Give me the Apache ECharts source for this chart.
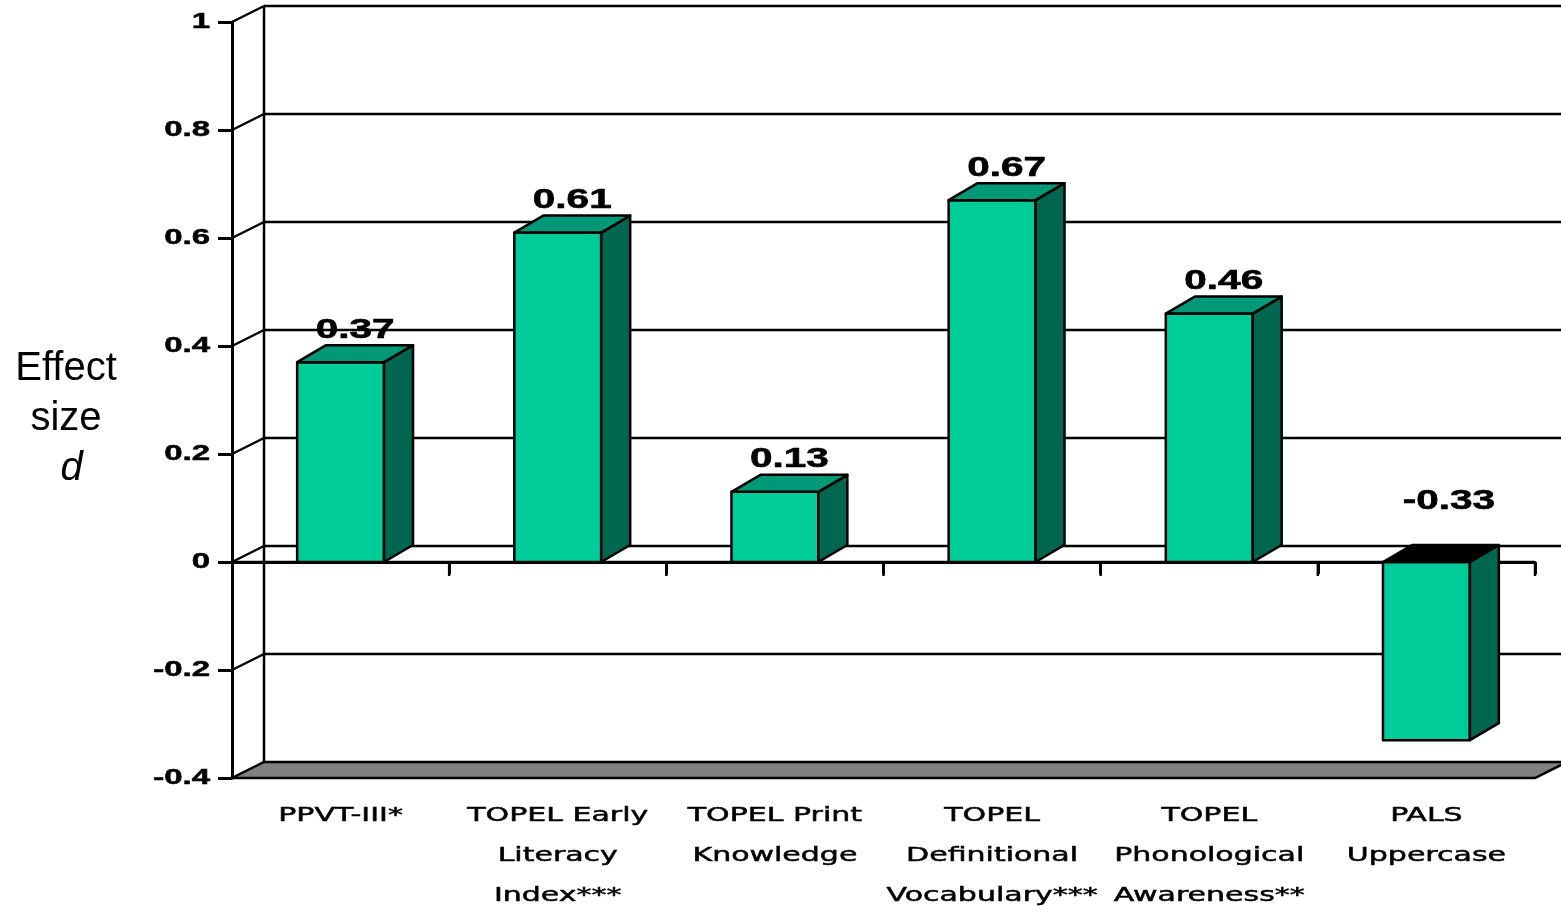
<!DOCTYPE html>
<html>
<head>
<meta charset="utf-8">
<script src="https://cdn.jsdelivr.net/npm/echarts@6/dist/echarts.min.js"></script>
<style>
  html, body { margin: 0; padding: 0; background: #fff; }
  #chart { width: 1561px; height: 913px; }
</style>
</head>
<body>
<div id="chart"></div>
<script>
const categories = [
  'PPVT-III*',
  'TOPEL Early\nLiteracy\nIndex***',
  'TOPEL Print\nKnowledge',
  'TOPEL\nDefinitional\nVocabulary***',
  'TOPEL\nPhonological\nAwareness**',
  'PALS\nUppercase',
]
const effectSizes = [0.37, 0.61, 0.13, 0.67, 0.46, -0.33]
const yTicks = [-0.4, -0.2, 0, 0.2, 0.4, 0.6, 0.8, 1]
const yTickLabels = ['-0.4', '-0.2', '0', '0.2', '0.4', '0.6', '0.8', '1']

const yMin = -0.4
const yMax = 1
const yStep = 0.2

// pseudo-3D offsets
const WALL_DX = 32, WALL_DY = 16
const BAR_DX = 29, BAR_DY = 17
const STRETCH = 1.5
const LINE = 2.5

const lineStyle = { stroke: '#000', lineWidth: LINE }

function renderWall(params, api) {
  const v = api.value(1)
  const cs = params.coordSys
  const x0 = cs.x, x1 = cs.x + cs.width
  const y = api.coord([0, v])[1]
  const children = []
  if (params.dataIndex === 0) {
    // back-left edge of the wall
    children.push({ type: 'line', shape: { x1: x0 + WALL_DX, y1: cs.y - WALL_DY, x2: x0 + WALL_DX, y2: y - WALL_DY }, style: lineStyle })
    // floor
    children.push({
      type: 'polygon',
      shape: { points: [[x0, y], [x1, y], [x1 + WALL_DX, y - WALL_DY], [x0 + WALL_DX, y - WALL_DY]] },
      style: { fill: '#808080', stroke: '#000', lineWidth: LINE },
    })
  } else {
    children.push({ type: 'line', shape: { x1: x0 + WALL_DX, y1: y - WALL_DY, x2: x1 + WALL_DX, y2: y - WALL_DY }, style: lineStyle })
    children.push({ type: 'line', shape: { x1: x0, y1: y, x2: x0 + WALL_DX, y2: y - WALL_DY }, style: lineStyle })
  }
  if (v === 0) {
    children.push({ type: 'line', shape: { x1: x0, y1: y, x2: x1, y2: y }, style: lineStyle })
    const band = cs.width / categories.length
    for (let k = 1; k <= categories.length; k++) {
      const bx = x0 + k * band
      children.push({ type: 'line', shape: { x1: bx, y1: y, x2: bx, y2: y + 14 }, style: lineStyle })
    }
  }
  return { type: 'group', children }
}

function renderBar(params, api) {
  const i = api.value(0)
  const v = api.value(1)
  const zero = api.coord([i, 0])
  const end = api.coord([i, v])
  const w = api.size([1, 0])[0] * 0.4
  const cx = zero[0]
  const left = cx - w / 2, right = cx + w / 2
  const top = Math.min(zero[1], end[1]), bottom = Math.max(zero[1], end[1])
  const edge = { stroke: '#000', lineWidth: LINE, lineJoin: 'round' }
  const labelY = v >= 0 ? top - BAR_DY - 15 : zero[1] - BAR_DY - 43
  return {
    type: 'group',
    children: [
      { type: 'rect', shape: { x: left, y: top, width: w, height: bottom - top }, style: Object.assign({ fill: '#00CC99' }, edge) },
      {
        type: 'polygon',
        shape: { points: [[right, top], [right + BAR_DX, top - BAR_DY], [right + BAR_DX, bottom - BAR_DY], [right, bottom]] },
        style: Object.assign({ fill: '#006650' }, edge),
      },
      {
        type: 'polygon',
        shape: { points: [[left, top], [left + BAR_DX, top - BAR_DY], [right + BAR_DX, top - BAR_DY], [right, top]] },
        style: Object.assign({ fill: v >= 0 ? '#009977' : '#000' }, edge),
      },
      {
        type: 'text',
        x: cx + BAR_DX / 2 + (v < 0 ? 8 : 0),
        y: labelY,
        scaleX: STRETCH,
        style: {
          text: v.toFixed(2),
          x: 0, y: 0,
          align: 'center', verticalAlign: 'middle',
          fontFamily: 'Liberation Sans', fontWeight: 'bold', fontSize: 27,
          fill: '#000', stroke: '#000', lineWidth: 0.6,
        },
      },
    ],
  }
}

function renderYLabel(params, api) {
  const v = api.value(1)
  const y = api.coord([0, v])[1]
  return {
    type: 'text',
    x: params.coordSys.x - 22,
    y,
    scaleX: STRETCH,
    style: {
      text: yTickLabels[params.dataIndex],
      x: 0, y: 0,
      align: 'right', verticalAlign: 'middle',
      fontFamily: 'Liberation Sans', fontWeight: 'bold', fontSize: 22,
      fill: '#000', stroke: '#000', lineWidth: 0.5,
    },
  }
}

function renderCategoryLabel(params, api) {
  const p = api.coord([api.value(0), yMin])
  return {
    type: 'text',
    x: p[0],
    y: p[1] + 18,
    scaleX: STRETCH,
    style: {
      text: categories[params.dataIndex],
      x: 0, y: 0,
      align: 'center', verticalAlign: 'top',
      fontFamily: 'DejaVu Sans', fontSize: 20, lineHeight: 40,
      fill: '#000', stroke: '#000', lineWidth: 0.5,
    },
  }
}

const chart = echarts.init(document.getElementById('chart'), null, { renderer: 'canvas' })

chart.setOption({
  animation: false,
  backgroundColor: '#fff',
  grid: { left: 232, right: 26, top: 22, bottom: 135, containLabel: false },
  xAxis: {
    type: 'category',
    data: categories,
    boundaryGap: true,
    axisLine: { show: true, lineStyle: { color: '#000', width: 3 } },
    axisTick: { show: true, length: 12, lineStyle: { color: '#000', width: 3 } },
    axisLabel: { show: false },
    splitLine: { show: false },
  },
  yAxis: {
    type: 'value',
    min: yMin,
    max: yMax,
    interval: yStep,
    axisLine: { show: true, onZero: false, lineStyle: { color: '#000', width: 3 } },
    axisTick: { show: true, length: 14, lineStyle: { color: '#000', width: 3 } },
    axisLabel: { show: false },
    splitLine: { show: false },
  },
  graphic: [{
    type: 'text',
    x: 66,
    y: 419,
    style: {
      text: 'Effect\nsize\n{it| d}',
      align: 'center',
      verticalAlign: 'middle',
      fontFamily: 'Liberation Sans',
      fontSize: 40,
      lineHeight: 50,
      fill: '#000',
      rich: { it: { fontStyle: 'italic', fontFamily: 'Liberation Sans', fontSize: 40, lineHeight: 50 } },
    },
  }],
  series: [
    {
      type: 'custom',
      name: 'wall',
      clip: false,
      silent: true,
      z: 1,
      renderItem: renderWall,
      data: yTicks.map(v => [0, v]),
    },
    {
      type: 'custom',
      name: 'Effect size',
      clip: false,
      z: 3,
      renderItem: renderBar,
      data: effectSizes.map((v, i) => [i, v]),
    },
    {
      type: 'custom',
      name: 'y labels',
      clip: false,
      silent: true,
      z: 4,
      renderItem: renderYLabel,
      data: yTicks.map(v => [0, v]),
    },
    {
      type: 'custom',
      name: 'category labels',
      clip: false,
      silent: true,
      z: 4,
      renderItem: renderCategoryLabel,
      data: categories.map((c, i) => [i, yMin]),
    },
  ],
})
</script>
</body>
</html>
